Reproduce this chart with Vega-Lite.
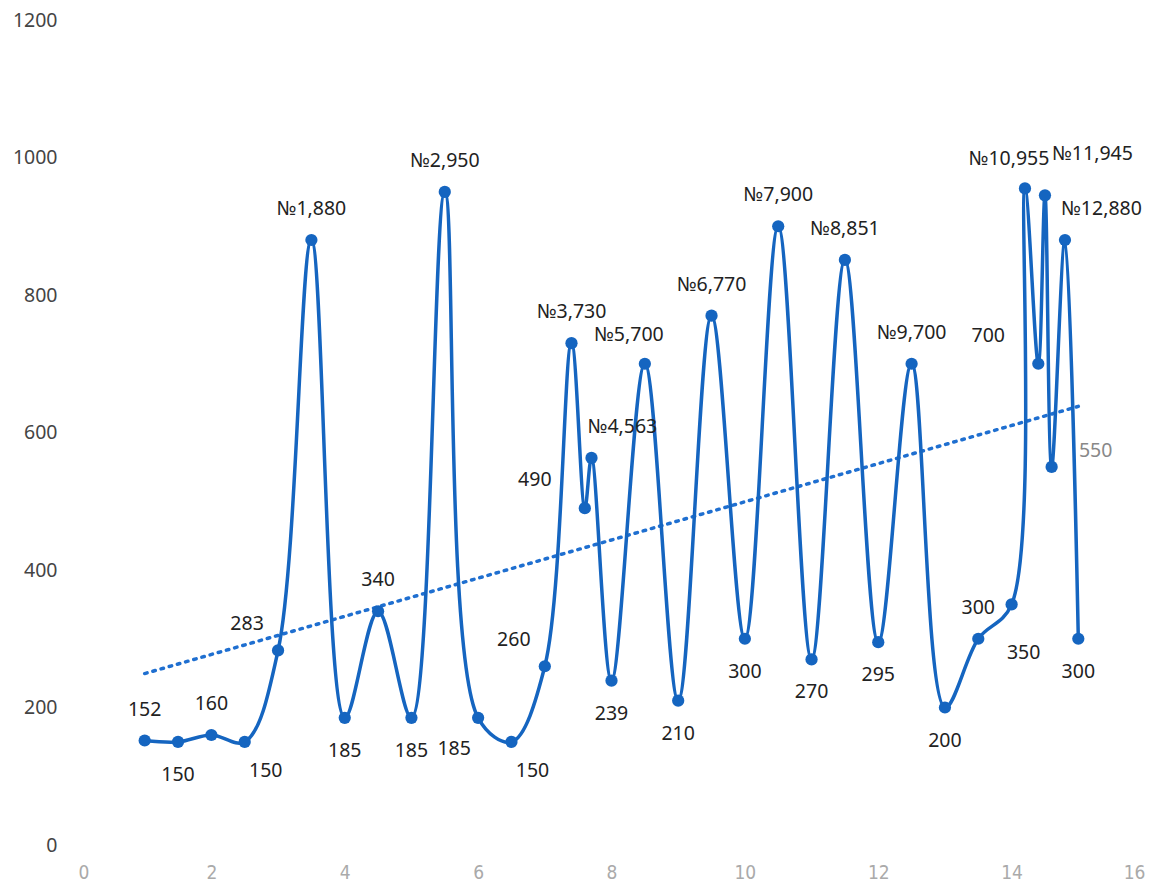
{
  "$schema": "https://vega.github.io/schema/vega-lite/v6.json",
  "width": 1067,
  "height": 825,
  "autosize": "none",
  "padding": {"left": 78, "top": 20, "right": 16, "bottom": 36},
  "background": "white",
  "config": {
    "view": {"stroke": null},
    "font": "Noto Sans",
    "axis": {"grid": false, "domain": false, "ticks": false, "title": null},
    "text": {"fontSize": 19.5, "color": "#222222"}
  },
  "data": {
    "values": [
      {"x": 1, "y": 152, "label": "152"},
      {"x": 1.5, "y": 150, "label": "150"},
      {"x": 2, "y": 160, "label": "160"},
      {"x": 2.5, "y": 150, "label": "150"},
      {"x": 3, "y": 283, "label": "283"},
      {"x": 3.5, "y": 880, "label": "№1,880"},
      {"x": 4, "y": 185, "label": "185"},
      {"x": 4.5, "y": 340, "label": "340"},
      {"x": 5, "y": 185, "label": "185"},
      {"x": 5.5, "y": 950, "label": "№2,950"},
      {"x": 6, "y": 185, "label": "185"},
      {"x": 6.5, "y": 150, "label": "150"},
      {"x": 7, "y": 260, "label": "260"},
      {"x": 7.4, "y": 730, "label": "№3,730"},
      {"x": 7.6, "y": 490, "label": "490"},
      {"x": 7.7, "y": 563, "label": "№4,563"},
      {"x": 8, "y": 239, "label": "239"},
      {"x": 8.5, "y": 700, "label": "№5,700"},
      {"x": 9, "y": 210, "label": "210"},
      {"x": 9.5, "y": 770, "label": "№6,770"},
      {"x": 10, "y": 300, "label": "300"},
      {"x": 10.5, "y": 900, "label": "№7,900"},
      {"x": 11, "y": 270, "label": "270"},
      {"x": 11.5, "y": 851, "label": "№8,851"},
      {"x": 12, "y": 295, "label": "295"},
      {"x": 12.5, "y": 700, "label": "№9,700"},
      {"x": 13, "y": 200, "label": "200"},
      {"x": 13.5, "y": 300, "label": "300"},
      {"x": 14, "y": 350, "label": "350"},
      {"x": 14.2, "y": 955, "label": "№10,955"},
      {"x": 14.4, "y": 700, "label": "700"},
      {"x": 14.5, "y": 945, "label": "№11,945"},
      {"x": 14.6, "y": 550, "label": "550"},
      {"x": 14.8, "y": 880, "label": "№12,880"},
      {"x": 15, "y": 300, "label": "300"}
    ]
  },
  "encoding": {
    "x": {
      "field": "x",
      "type": "quantitative",
      "scale": {"domain": [0, 16], "nice": false},
      "axis": {"values": [0, 2, 4, 6, 8, 10, 12, 14, 16], "labelFontSize": 19, "labelColor": "#aaaaaa", "labelPadding": 18, "labelFont": "DejaVu Sans Condensed", "labelFontWeight": 300}
    },
    "y": {
      "field": "y",
      "type": "quantitative",
      "scale": {"domain": [0, 1200], "nice": false},
      "axis": {"values": [0, 200, 400, 600, 800, 1000, 1200], "format": "d", "labelFontSize": 19.5, "labelColor": "#444444", "labelPadding": 21}
    },
    "text": {"field": "label", "type": "nominal"}
  },
  "layer": [
    {
      "transform": [{"regression": "y", "on": "x"}],
      "mark": {"type": "line", "color": "#1f6fd0", "strokeWidth": 3.5, "strokeDash": [2.5, 6], "strokeCap": "round"},
      "encoding": {"text": null}
    },
    {
      "mark": {"type": "line", "interpolate": "catmull-rom", "color": "#1565c0", "strokeWidth": 3.5},
      "encoding": {"text": null}
    },
    {
      "mark": {"type": "circle", "color": "#1565c0", "opacity": 1, "size": 150},
      "encoding": {"text": null}
    },
    {
      "transform": [{"filter": {"field": "x", "oneOf": [1, 2, 3.5, 4.5, 5.5, 7.4, 9.5, 10.5, 11.5, 12.5, 13.5]}}],
      "mark": {"type": "text", "dy": -31}
    },
    {
      "transform": [{"filter": {"field": "x", "oneOf": [8.5, 14.2]}}],
      "mark": {"type": "text", "dy": -29, "dx": -16}
    },
    {
      "transform": [{"filter": {"field": "x", "oneOf": [7.7, 14.8]}}],
      "mark": {"type": "text", "dy": -31, "align": "left", "dx": -4}
    },
    {
      "transform": [{"filter": {"field": "x", "oneOf": [14.5]}}],
      "mark": {"type": "text", "dy": -41, "align": "left", "dx": 7}
    },
    {
      "transform": [{"filter": {"field": "x", "oneOf": [1.5, 4, 5, 8, 9, 10, 11, 12, 13, 15]}}],
      "mark": {"type": "text", "dy": 33}
    },
    {
      "transform": [{"filter": {"field": "x", "oneOf": [2.5, 6.5]}}],
      "mark": {"type": "text", "dy": 29, "dx": 21}
    },
    {
      "transform": [{"filter": {"field": "x", "oneOf": [14]}}],
      "mark": {"type": "text", "dy": 49, "dx": 12}
    },
    {
      "transform": [{"filter": {"field": "x", "oneOf": [6]}}],
      "mark": {"type": "text", "dy": 31, "dx": -24}
    },
    {
      "transform": [{"filter": {"field": "x", "oneOf": [3, 7]}}],
      "mark": {"type": "text", "dy": -26, "dx": -31}
    },
    {
      "transform": [{"filter": {"field": "x", "oneOf": [7.6, 14.4]}}],
      "mark": {"type": "text", "dy": -28, "dx": -50}
    },
    {
      "transform": [{"filter": {"field": "x", "oneOf": [14.6]}}],
      "mark": {"type": "text", "color": "#888888", "dy": -16, "dx": 44}
    }
  ]
}
